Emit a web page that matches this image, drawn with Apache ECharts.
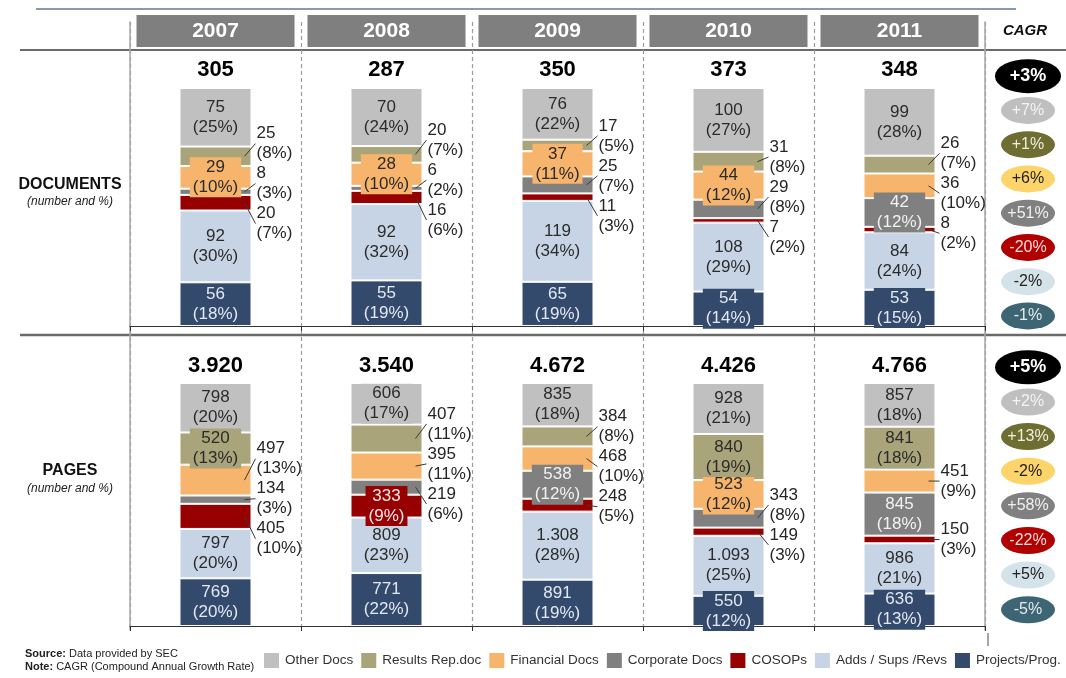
<!DOCTYPE html>
<html>
<head>
<meta charset="utf-8">
<title>Documents and pages 2007-2011</title>
<script src="https://cdn.jsdelivr.net/npm/echarts@6/dist/echarts.min.js"></script>
<style>
  html, body { margin: 0; padding: 0; background: #fff; }
  #main { width: 1066px; height: 678px; }
</style>
</head>
<body>
<div id="main"></div>
<script>
// years and document types (legend order, top of the bar first)
var years = ['2007', '2008', '2009', '2010', '2011'];
var types = ['Other Docs', 'Results Rep.doc', 'Financial Docs', 'Corporate Docs', 'COSOPs', 'Adds / Sups /Revs', 'Projects/Prog.'];

// number of documents, 2007..2011
var docOther     = [75, 70, 76, 100, 99];
var docResults   = [25, 20, 17, 31, 26];
var docFinancial = [29, 28, 37, 44, 36];
var docCorporate = [8, 6, 25, 29, 42];
var docCosops    = [20, 16, 11, 7, 8];
var docAdds      = [92, 92, 119, 108, 84];
var docProjects  = [56, 55, 65, 54, 53];

// number of pages, 2007..2011
var pageOther     = [798, 606, 835, 928, 857];
var pageResults   = [520, 407, 384, 840, 841];
var pageFinancial = [497, 395, 468, 523, 451];
var pageCorporate = [134, 219, 538, 343, 845];
var pageCosops    = [405, 333, 248, 149, 150];
var pageAdds      = [797, 809, 1308, 1093, 986];
var pageProjects  = [769, 771, 891, 550, 636];

// CAGR column: total first, then one per type
var docCagr  = ['+3%', '+7%', '+1%', '+6%', '+51%', '-20%', '-2%', '-1%'];
var pageCagr = ['+5%', '+2%', '+13%', '-2%', '+58%', '-22%', '+5%', '-5%'];

// which types (index in types) get their label outside the bar, per year
var docCallouts  = [[1, 3, 4], [1, 3, 4], [1, 3, 4], [1, 3, 4], [1, 2, 4]];
var pageCallouts = [[2, 3, 4], [1, 2, 3], [1, 2, 4], [3, 4], [2, 4]];

var colors     = ['#c0c0c0', '#a9a47a', '#f6b46c', '#808080', '#960000', '#c6d4e6', '#344a6d'];
var insideText = ['#2b2b2b', '#2b2b2b', '#2b2b2b', '#f2f2f2', '#fbe9e9', '#2b2b2b', '#e2e8f1'];
var cagrColors = ['#000000', '#bfbfbf', '#6e6e32', '#fdd46a', '#808080', '#b00000', '#d4e2ea', '#3e6573'];
var cagrText   = ['#ffffff', '#f4f4f4', '#eeeedd', '#222222', '#f0f0f0', '#f8dede', '#222222', '#e4eaee'];

var FONT = '"Liberation Sans", Arial, Helvetica, sans-serif';
var BAR_W = 72;
var LINE_H = 20;

var sets = [
  [docOther, docResults, docFinancial, docCorporate, docCosops, docAdds, docProjects],
  [pageOther, pageResults, pageFinancial, pageCorporate, pageCosops, pageAdds, pageProjects]
];
var callouts = [docCallouts, pageCallouts];
var totals = sets.map(function (set) {
  return years.map(function (y, i) {
    var s = 0;
    set.forEach(function (arr) { s += arr[i]; });
    return s;
  });
});

function fmt(n) {
  return String(n).replace(/\B(?=(\d{3})+(?!\d))/g, '.');
}
function pctOf(g, t, i) {
  return sets[g][t][i] / totals[g][i] * 100;
}
// share of the bar under the segment t
function under(g, t, i) {
  var s = 0;
  for (var m = t + 1; m < 7; m++) s += pctOf(g, m, i);
  return s;
}
function calloutList(g, i) {
  return callouts[g][i].slice().sort(function (a, b) { return a - b; });
}

// wanted centres (px, top to bottom) -> centres without overlap, each group kept around its mean
function spreadCentres(wanted, h) {
  var groups = wanted.map(function (c, n) { return { ids: [n], sum: c, n: 1 }; });
  var merged = true;
  while (merged) {
    merged = false;
    for (var j = 0; j < groups.length - 1; j++) {
      var a = groups[j], b = groups[j + 1];
      if (a.sum / a.n + a.n * h / 2 > b.sum / b.n - b.n * h / 2) {
        groups.splice(j, 2, { ids: a.ids.concat(b.ids), sum: a.sum + b.sum, n: a.n + b.n });
        merged = true;
        break;
      }
    }
  }
  var out = [];
  groups.forEach(function (gr) {
    var start = gr.sum / gr.n - gr.n * h / 2;
    gr.ids.forEach(function (id, pos) { out[id] = start + pos * h + h / 2; });
  });
  return out;
}

function calloutLayout(g, t) {
  return function (p) {
    var i = p.dataIndex;
    var list = calloutList(g, i);
    var idx = list.indexOf(t);
    if (idx < 0) return {};
    var r = p.rect;
    var top = r.y, hgt = r.height;
    if (hgt < 0) { top += hgt; hgt = -hgt; }
    var scale = hgt / pctOf(g, t, i);
    var base = top + hgt + under(g, t, i) * scale;
    var wanted = list.map(function (k) {
      return base - (under(g, k, i) + pctOf(g, k, i) / 2) * scale;
    });
    var pos = spreadCentres(wanted, 2 * LINE_H);
    return { x: r.x + r.width + 5, y: pos[idx], align: 'left', verticalAlign: 'middle' };
  };
}

var series = [];
[0, 1].forEach(function (g) {
  for (var t = 6; t >= 0; t--) {
    (function (t) {
      series.push({
        name: types[t],
        type: 'bar',
        stack: 'stack' + g,
        xAxisIndex: g === 0 ? 0 : 2,
        yAxisIndex: g,
        barWidth: BAR_W,
        itemStyle: { color: colors[t], borderColor: '#ffffff', borderWidth: 1 },
        labelLayout: calloutLayout(g, t),
        data: years.map(function (y, i) {
          var out = callouts[g][i].indexOf(t) >= 0;
          var text = fmt(sets[g][t][i]) + '\n(' + Math.round(pctOf(g, t, i)) + '%)';
          var label = out ? {
            show: true, position: 'right', distance: 5, formatter: text,
            color: '#262626', fontSize: 17, lineHeight: LINE_H, fontFamily: FONT
          } : {
            show: true, position: 'inside', formatter: text,
            color: insideText[t], backgroundColor: colors[t], padding: [0, 3],
            fontSize: 17, lineHeight: LINE_H, fontFamily: FONT
          };
          return { value: pctOf(g, t, i), label: label };
        })
      });
    })(t);
  }
  // total above each bar
  series.push({
    name: 'Total',
    type: 'bar',
    stack: 'stack' + g,
    xAxisIndex: g === 0 ? 0 : 2,
    yAxisIndex: g,
    barWidth: BAR_W,
    silent: true,
    itemStyle: { color: 'transparent' },
    label: {
      show: true, position: 'top', distance: g === 0 ? 7 : 6,
      formatter: function (p) { return fmt(totals[g][p.dataIndex]); },
      color: '#000', fontSize: 22, fontWeight: 'bold', fontFamily: FONT
    },
    data: years.map(function () { return 0; })
  });
  // leader lines from the small segments to their outside labels
  series.push({
    type: 'custom',
    xAxisIndex: g === 0 ? 0 : 2,
    yAxisIndex: g,
    silent: true,
    z: 5,
    data: years.map(function (y, i) { return i; }),
    renderItem: function (params, api) {
      var i = params.dataIndex;
      var list = calloutList(g, i);
      var right = api.coord([i, 0])[0] + BAR_W / 2;
      var wanted = list.map(function (k) {
        return api.coord([i, under(g, k, i) + pctOf(g, k, i) / 2])[1];
      });
      var pos = spreadCentres(wanted, 2 * LINE_H);
      return {
        type: 'group',
        children: list.map(function (k, n) {
          return {
            type: 'line',
            shape: { x1: right - 7, y1: wanted[n], x2: right + 4, y2: pos[n] },
            style: { stroke: '#3a3a3a', lineWidth: 1 }
          };
        })
      };
    }
  });
});

var cagrRows = ['Total'].concat(types);
[docCagr, pageCagr].forEach(function (vals, g) {
  series.push({
    type: 'scatter',
    xAxisIndex: 4 + g,
    yAxisIndex: 4 + g,
    silent: true,
    symbol: 'circle',
    data: vals.map(function (v, k) {
      return {
        value: [0, k],
        symbolSize: k === 0 ? [66, 34] : [54, 27],
        itemStyle: { color: cagrColors[k], opacity: 1 },
        label: {
          show: true, position: 'inside', formatter: v,
          color: cagrText[k], fontSize: k === 0 ? 18 : 16,
          fontWeight: k === 0 ? 'bold' : 'normal', fontFamily: FONT
        }
      };
    })
  });
});

var hidden = { show: false };
var bracket = {
  type: 'category', data: years, position: 'bottom',
  axisLine: { show: true, lineStyle: { color: '#333', width: 1 } },
  axisTick: { show: true, length: 5, lineStyle: { color: '#333' } },
  axisLabel: hidden, splitLine: hidden
};

var chart = echarts.init(document.getElementById('main'));
chart.setOption({
  animation: false,
  backgroundColor: '#ffffff',
  textStyle: { fontFamily: FONT },
  grid: [
    { left: 130, width: 855, top: 88, height: 238, outerBoundsMode: 'none' },
    { left: 130, width: 855, top: 383, height: 243, outerBoundsMode: 'none' },
    { left: 130, width: 855, top: 22, height: 608, outerBoundsMode: 'none' },
    { left: 990, width: 76, top: 59, height: 274, outerBoundsMode: 'none' },
    { left: 990, width: 76, top: 350, height: 277, outerBoundsMode: 'none' }
  ],
  xAxis: [
    Object.assign({ gridIndex: 0 }, bracket),
    {
      gridIndex: 0, type: 'category', data: years, position: 'top',
      axisLine: hidden, axisTick: hidden, splitLine: hidden,
      axisLabel: {
        show: true, interval: 0, margin: 41,
        color: '#ffffff', fontSize: 21, fontWeight: 'bold', fontFamily: FONT,
        backgroundColor: '#7f7f7f', width: 158, height: 32, lineHeight: 32, align: 'center'
      }
    },
    Object.assign({ gridIndex: 1 }, bracket),
    {
      gridIndex: 2, type: 'category', data: years,
      axisLine: hidden, axisTick: hidden, axisLabel: hidden,
      splitLine: { show: true, interval: 0, lineStyle: { color: '#9c9c9c', type: [4, 3], width: 1.2 } }
    },
    { gridIndex: 3, type: 'value', min: -1, max: 1, show: false },
    { gridIndex: 4, type: 'value', min: -1, max: 1, show: false }
  ],
  yAxis: [
    { gridIndex: 0, type: 'value', min: 0, max: 100, show: false },
    { gridIndex: 1, type: 'value', min: 0, max: 100, show: false },
    {
      gridIndex: 2, type: 'value', min: 0, max: 1, position: 'left',
      axisLine: { show: true, lineStyle: { color: '#a6a6a6', width: 1.5 } },
      axisTick: hidden, axisLabel: hidden, splitLine: hidden
    },
    {
      gridIndex: 2, type: 'value', min: 0, max: 1, position: 'right',
      axisLine: { show: true, lineStyle: { color: '#a6a6a6', width: 1.5 } },
      axisTick: hidden, axisLabel: hidden, splitLine: hidden
    },
    { gridIndex: 3, type: 'category', data: cagrRows, inverse: true, show: false },
    { gridIndex: 4, type: 'category', data: cagrRows, inverse: true, show: false }
  ],
  legend: {
    data: types,
    left: 262, top: 651, padding: 0,
    icon: 'rect', itemWidth: 17, itemHeight: 17, itemGap: 6,
    selectedMode: false,
    textStyle: { color: '#333', fontSize: 13.5, fontFamily: FONT }
  },
  graphic: [
    { type: 'line', shape: { x1: 36, y1: 9, x2: 1016, y2: 9 }, style: { stroke: '#8a99ad', lineWidth: 2 }, silent: true },
    { type: 'line', shape: { x1: 20, y1: 50, x2: 1066, y2: 50 }, style: { stroke: '#3a3a3a', lineWidth: 1.5 }, silent: true },
    { type: 'line', shape: { x1: 20, y1: 335, x2: 1066, y2: 335 }, style: { stroke: '#6a6a6a', lineWidth: 2.5 }, silent: true },
    { type: 'line', shape: { x1: 988, y1: 633, x2: 988, y2: 646 }, style: { stroke: '#888', lineWidth: 1.5 }, silent: true },
    { type: 'text', x: 1025, y: 31, style: { text: 'CAGR', font: 'italic bold 15px ' + FONT, fill: '#111', align: 'center', verticalAlign: 'middle' } },
    { type: 'text', x: 70, y: 185, style: { text: 'DOCUMENTS', font: 'bold 16px ' + FONT, fill: '#111', align: 'center', verticalAlign: 'middle' } },
    { type: 'text', x: 70, y: 202, style: { text: '(number and %)', font: 'italic 12px ' + FONT, fill: '#222', align: 'center', verticalAlign: 'middle' } },
    { type: 'text', x: 70, y: 471, style: { text: 'PAGES', font: 'bold 16px ' + FONT, fill: '#111', align: 'center', verticalAlign: 'middle' } },
    { type: 'text', x: 70, y: 489, style: { text: '(number and %)', font: 'italic 12px ' + FONT, fill: '#222', align: 'center', verticalAlign: 'middle' } },
    {
      type: 'text', x: 25, y: 654,
      style: {
        text: '{b|Source:} Data provided by SEC', fill: '#222', fontSize: 11, fontFamily: FONT, verticalAlign: 'middle',
        rich: { b: { fontWeight: 'bold', fontSize: 11, fontFamily: FONT } }
      }
    },
    {
      type: 'text', x: 25, y: 667,
      style: {
        text: '{b|Note:} CAGR (Compound Annual Growth Rate)', fill: '#222', fontSize: 11, fontFamily: FONT, verticalAlign: 'middle',
        rich: { b: { fontWeight: 'bold', fontSize: 11, fontFamily: FONT } }
      }
    }
  ],
  series: series
});
</script>
</body>
</html>
